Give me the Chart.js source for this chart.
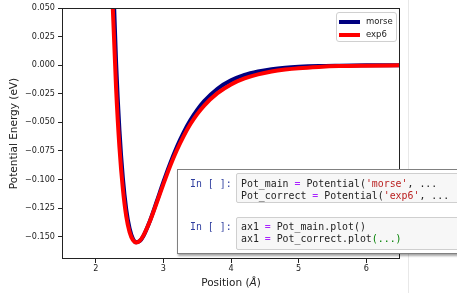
<!DOCTYPE html>
<html><head><meta charset="utf-8">
<script src="https://cdn.jsdelivr.net/npm/chart.js@4"></script>
<style>
body{margin:0;background:#fff;}
#wrap{position:relative;width:457px;height:293px;overflow:hidden;background:#fff;font-family:"DejaVu Sans",sans-serif;}
#nbline{position:absolute;left:408px;top:0;width:1px;height:293px;background:#e8e8e8;}
canvas{position:absolute;left:0;top:0;}
#xtitle{position:absolute;left:62px;width:338px;top:276px;text-align:center;font-size:10.5px;color:#222;line-height:13px;white-space:nowrap;}
#legend{position:absolute;left:336px;top:12px;width:59px;height:28px;border:1px solid #d0d0d0;border-radius:3px;background:rgba(255,255,255,0.8);}
.lh{position:absolute;left:2px;width:21px;height:4px;}
.lt{position:absolute;left:29px;font-size:8.5px;line-height:10px;color:#222;white-space:nowrap;}
#inset{position:absolute;left:177px;top:169px;width:300px;height:83px;border:1px solid #808080;background:#fff;box-shadow:1px 2px 2px rgba(0,0,0,0.35);}
.prompt{position:absolute;left:12px;font-family:"DejaVu Sans Mono",monospace;font-size:9.9px;line-height:12.4px;color:#303F9F;white-space:pre;}
.cell{position:absolute;left:58px;width:260px;background:#f7f7f7;border:1px solid #cfcfcf;border-radius:2px;box-sizing:border-box;}
.code{font-family:"DejaVu Sans Mono",monospace;font-size:9.9px;line-height:12.4px;color:#222;white-space:pre;padding-left:4px;}
.op{color:#AA22FF;}
.s{color:#BA2121;}
.g{color:#008000;}
</style>
</head><body>
<div id="wrap">
  <div id="nbline"></div>
  <canvas id="c" width="457" height="293"></canvas>
  <div id="xtitle">Position (<i>Å</i>)</div>
  <div id="legend">
    <div class="lh" style="top:6.5px;background:#000080"></div><div class="lt" style="top:3px">morse</div>
    <div class="lh" style="top:19.5px;background:#ff0000"></div><div class="lt" style="top:16px">exp6</div>
  </div>
  <div id="inset">
    <div class="prompt" style="top:8px">In [ ]:</div>
    <div class="cell" style="top:3px;height:30px;"><div class="code" style="padding-top:4px">Pot_main <span class="op">=</span> Potential(<span class="s">'morse'</span>, ...
Pot_correct <span class="op">=</span> Potential(<span class="s">'exp6'</span>, ...</div></div>
    <div class="prompt" style="top:50.5px">In [ ]:</div>
    <div class="cell" style="top:47px;height:33px;"><div class="code" style="padding-top:2.5px">ax1 <span class="op">=</span> Pot_main.plot()
ax1 <span class="op">=</span> Pot_correct.plot<span class="g">(...)</span></div></div>
  </div>
</div>
<script>
const positions = [2.20, 2.25, 2.30, 2.35, 2.40, 2.45, 2.50, 2.55, 2.60, 2.65, 2.70, 2.80, 2.90, 3.00, 3.10, 3.20, 3.30, 3.40, 3.50, 3.60, 3.80, 4.00, 4.20, 4.40, 4.60, 4.80, 5.00, 5.30, 5.60, 6.00, 6.50];
const morse = [0.201, 0.0863, 0.0028, -0.0570, -0.0984, -0.1259, -0.1428, -0.1518, -0.1549, -0.1538, -0.1498, -0.1362, -0.1194, -0.1021, -0.0859, -0.0713, -0.0587, -0.0480, -0.0391, -0.0316, -0.0206, -0.0133, -0.0085, -0.0055, -0.0035, -0.0022, -0.0014, -0.0007, -0.0004, -0.00015, -0.00004];
const exp6 = [0.150, 0.052, -0.020, -0.072, -0.108, -0.132, -0.146, -0.1530, -0.1550, -0.1535, -0.1495, -0.1365, -0.1205, -0.1040, -0.0882, -0.0742, -0.0620, -0.0515, -0.0428, -0.0355, -0.0245, -0.0168, -0.0116, -0.0080, -0.0055, -0.0038, -0.0026, -0.0015, -0.0008, -0.0004, -0.0001];
const xTicks = [2, 3, 4, 5, 6];
const yTicks = [-0.150, -0.125, -0.100, -0.075, -0.050, -0.025, 0.000, 0.025, 0.050];
const xRange = [1.5, 6.5];
const yRange = [-0.1695, 0.050];

const frame = {
  id: 'frame',
  afterDatasetsDraw(chart) {
    const a = chart.chartArea, ctx = chart.ctx;
    ctx.save();
    ctx.strokeStyle = '#222';
    ctx.lineWidth = 1;
    ctx.strokeRect(Math.round(a.left) + 0.5, Math.round(a.top) + 0.5, Math.round(a.width) - 1, Math.round(a.height) - 1);
    ctx.restore();
  }
};

const tickFont = {family: '"DejaVu Sans", sans-serif', size: 8.1};
new Chart(document.getElementById('c'), {
  type: 'line',
  data: {
    datasets: [
      {label: 'morse', data: positions.map((x, i) => ({x, y: morse[i]})), borderColor: '#000080', borderWidth: 4, pointRadius: 0, cubicInterpolationMode: 'monotone', clip: 0, order: 1},
      {label: 'exp6', data: positions.map((x, i) => ({x, y: exp6[i]})), borderColor: '#ff0000', borderWidth: 4, pointRadius: 0, cubicInterpolationMode: 'monotone', clip: 0, order: 0}
    ]
  },
  options: {
    responsive: false,
    animation: false,
    devicePixelRatio: 1,
    layout: {padding: {left: 0, right: 57, top: 8, bottom: 0}},
    plugins: {legend: {display: false}, tooltip: {enabled: false}},
    scales: {
      x: {
        type: 'linear', min: xRange[0], max: xRange[1],
        afterBuildTicks: s => { s.ticks = xTicks.map(v => ({value: v})); },
        afterFit: s => { s.height = 34; },
        grid: {drawOnChartArea: false, drawTicks: true, tickLength: 4, color: '#222'},
        border: {display: false},
        ticks: {font: tickFont, color: '#222', padding: 1.5, maxRotation: 0, callback: v => String(v)}
      },
      y: {
        type: 'linear', min: yRange[0], max: yRange[1],
        afterBuildTicks: s => { s.ticks = yTicks.map(v => ({value: v})); },
        afterFit: s => { s.width = 62; },
        grid: {drawOnChartArea: false, drawTicks: true, tickLength: 4, color: '#222'},
        border: {display: false},
        ticks: {font: tickFont, color: '#222', padding: 3, callback: v => v.toFixed(3).replace('-', '\u2212')},
        title: {display: true, text: 'Potential Energy (eV)', color: '#222', font: {family: '"DejaVu Sans", sans-serif', size: 10.5}, padding: {top: 7.5, bottom: 0}}
      }
    }
  },
  plugins: [frame]
});
</script>
</body></html>
